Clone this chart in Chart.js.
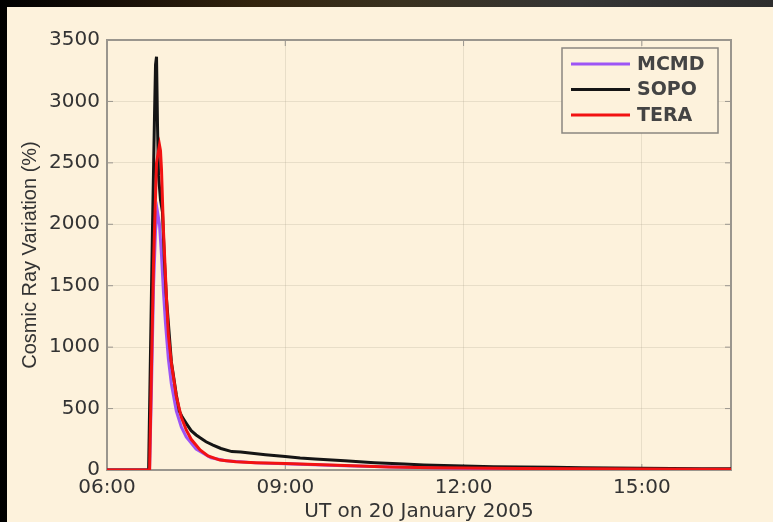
<!DOCTYPE html>
<html>
<head>
<meta charset="utf-8">
<script src="https://cdn.jsdelivr.net/npm/chart.js@4"></script>
<style>
    body { margin: 0; width: 773px; height: 522px; overflow: hidden;
        background: linear-gradient(90deg, #000 0%, #1c1208 18%, #33240e 33%, #3a3220 52%, #353535 75%, #2e2e2e 100%); }
    #wrap { position: absolute; left: 7px; top: 7px; width: 766px; height: 515px; background: #fdf2dc; }
</style>
</head>
<body>
<div id="wrap"><canvas id="mycanvas" width="766" height="515"></canvas></div>
<script>
// times are UT on 20 January 2005, values in % variation
var xTicks = ["06:00", "09:00", "12:00", "15:00"];
var yTicks = [0, 500, 1000, 1500, 2000, 2500, 3000, 3500];

var mcmdTimes = ["06:00", "06:43", "06:45", "06:47", "06:49", "06:51", "06:53", "06:55", "06:57", "06:59", "07:02", "07:05", "07:10", "07:15", "07:20", "07:30", "07:45", "08:00", "08:30", "09:00", "10:00", "11:00", "12:00", "13:00", "14:00", "15:00", "16:30"];
var mcmdValues = [0, 0, 700, 1500, 1950, 2100, 2000, 1750, 1450, 1200, 900, 700, 480, 350, 270, 170, 100, 75, 58, 50, 34, 22, 15, 11, 9, 7, 5];

var sopoTimes = ["06:00", "06:42", "06:44", "06:46", "06:48", "06:49", "06:50", "06:51", "06:52", "06:54", "06:56", "06:58", "07:00", "07:05", "07:10", "07:13", "07:16", "07:20", "07:25", "07:30", "07:34", "07:40", "07:47", "07:55", "08:06", "08:15", "08:24", "08:40", "09:00", "09:15", "09:30", "10:00", "10:30", "11:00", "11:20", "12:00", "12:30", "13:00", "13:30", "14:00", "14:30", "15:00", "15:30", "16:00", "16:30"];
var sopoValues = [0, 0, 1000, 2000, 2900, 3300, 3364, 2800, 2400, 2200, 2100, 1700, 1400, 880, 610, 480, 430, 380, 320, 285, 262, 230, 203, 175, 150, 146, 138, 125, 110, 98, 90, 76, 60, 48, 41, 33, 27, 25, 22, 19, 17, 15, 13, 11, 10];

var teraTimes = ["06:00", "06:43", "06:45", "06:47", "06:50", "06:53", "06:54", "06:55", "06:57", "07:00", "07:02", "07:05", "07:10", "07:15", "07:20", "07:25", "07:34", "07:42", "07:54", "08:10", "08:30", "09:00", "09:30", "10:00", "10:45", "11:30", "12:00", "13:00", "14:00", "15:00", "16:00", "16:30"];
var teraValues = [0, 0, 870, 1690, 2500, 2645, 2600, 2450, 1950, 1410, 1100, 870, 600, 430, 326, 250, 163, 115, 81, 68, 60, 52, 44, 36, 24, 19, 16, 12, 10, 8, 7, 6];

function toMin(t) {
    var p = t.split(":");
    return parseInt(p[0]) * 60 + parseInt(p[1]);
}
function fmt(v) {
    var h = Math.floor(v / 60), m = v % 60;
    return (h < 10 ? "0" : "") + h + ":" + (m < 10 ? "0" : "") + m;
}
function pts(times, values) {
    var out = [];
    for (var i in times) {
        out.push({x: toMin(times[i]), y: values[i]});
    }
    return out;
}

var tickFont = {family: "DejaVu Sans", size: 20};
var textColor = "#333";
var gridColor = "rgba(160,150,130,0.22)";

var legendItems = [
    {label: "MCMD", color: "#9d55f5"},
    {label: "SOPO", color: "#151515"},
    {label: "TERA", color: "#f21212"}
];

var framePlugin = {
    id: "frame",
    beforeDatasetsDraw: function (chart) {
        var a = chart.chartArea, ctx = chart.ctx;
        ctx.save();
        ctx.strokeStyle = "#9a968e";
        ctx.lineWidth = 2;
        ctx.strokeRect(a.left, a.top, a.right - a.left, a.bottom - a.top);
        // inward tick marks
        ctx.lineWidth = 1;
        ctx.beginPath();
        chart.scales.x.ticks.forEach(function (t) {
            var px = chart.scales.x.getPixelForValue(t.value);
            ctx.moveTo(px, a.bottom); ctx.lineTo(px, a.bottom - 6);
            ctx.moveTo(px, a.top); ctx.lineTo(px, a.top + 6);
        });
        chart.scales.y.ticks.forEach(function (t) {
            var py = chart.scales.y.getPixelForValue(t.value);
            ctx.moveTo(a.left, py); ctx.lineTo(a.left + 6, py);
            ctx.moveTo(a.right, py); ctx.lineTo(a.right - 6, py);
        });
        ctx.stroke();
        ctx.restore();
    },
    afterDraw: function (chart) {
        var ctx = chart.ctx;
        var bx = 555, by = 41, bw = 156, bh = 85;
        ctx.save();
        ctx.fillStyle = "#fdf2dc";
        ctx.fillRect(bx, by, bw, bh);
        ctx.strokeStyle = "#8a8780";
        ctx.lineWidth = 1.5;
        ctx.strokeRect(bx, by, bw, bh);
        ctx.font = "bold 19px 'DejaVu Sans'";
        ctx.textBaseline = "middle";
        legendItems.forEach(function (it, i) {
            var y = by + 16 + i * 25.5;
            ctx.strokeStyle = it.color;
            ctx.lineWidth = 3;
            ctx.beginPath();
            ctx.moveTo(bx + 9, y);
            ctx.lineTo(bx + 68, y);
            ctx.stroke();
            ctx.fillStyle = "#444";
            ctx.fillText(it.label, bx + 75, y + 1);
        });
        ctx.restore();
    }
};

function series(label, times, values, color, order) {
    return {
        label: label,
        data: pts(times, values),
        borderColor: color,
        backgroundColor: color,
        borderWidth: 3,
        pointRadius: 0,
        tension: 0,
        order: order
    };
}

var ctx = document.getElementById("mycanvas");
var chart = new Chart(ctx, {
    type: "line",
    data: {
        datasets: [
            series("MCMD", mcmdTimes, mcmdValues, "#9d55f5", 2),
            series("SOPO", sopoTimes, sopoValues, "#151515", 1),
            series("TERA", teraTimes, teraValues, "#f21212", 0)
        ]
    },
    options: {
        responsive: false,
        animation: false,
        layout: {padding: {left: 0, top: 33, right: 42, bottom: 0}},
        plugins: {legend: {display: false}, tooltip: {enabled: false}},
        scales: {
            x: {
                type: "linear",
                min: 360,
                max: 990,
                afterBuildTicks: function (s) {
                    s.ticks = xTicks.map(function (t) { return {value: toMin(t)}; });
                },
                afterFit: function (s) { s.height = 52; },
                ticks: {callback: function (v) { return fmt(v); }, font: tickFont, color: textColor, padding: 6, maxRotation: 0, autoSkip: false},
                grid: {color: gridColor, drawTicks: false},
                border: {display: false},
                title: {display: true, text: "UT on 20 January 2005", font: {family: "DejaVu Sans", size: 20, lineHeight: 1}, color: textColor, padding: {top: 0, bottom: 0}}
            },
            y: {
                min: 0,
                max: 3500,
                afterBuildTicks: function (s) {
                    s.ticks = yTicks.map(function (v) { return {value: v}; });
                },
                afterFit: function (s) { s.width = 100; },
                ticks: {callback: function (v) { return String(v); }, font: tickFont, color: textColor, padding: 7},
                grid: {color: gridColor, drawTicks: false},
                border: {display: false},
                title: {display: true, text: "Cosmic Ray Variation (%)", font: {family: "Liberation Sans", size: 20, lineHeight: 1}, color: textColor, padding: {top: 13, bottom: 0}}
            }
        }
    },
    plugins: [framePlugin]
});
</script>
</body>
</html>
